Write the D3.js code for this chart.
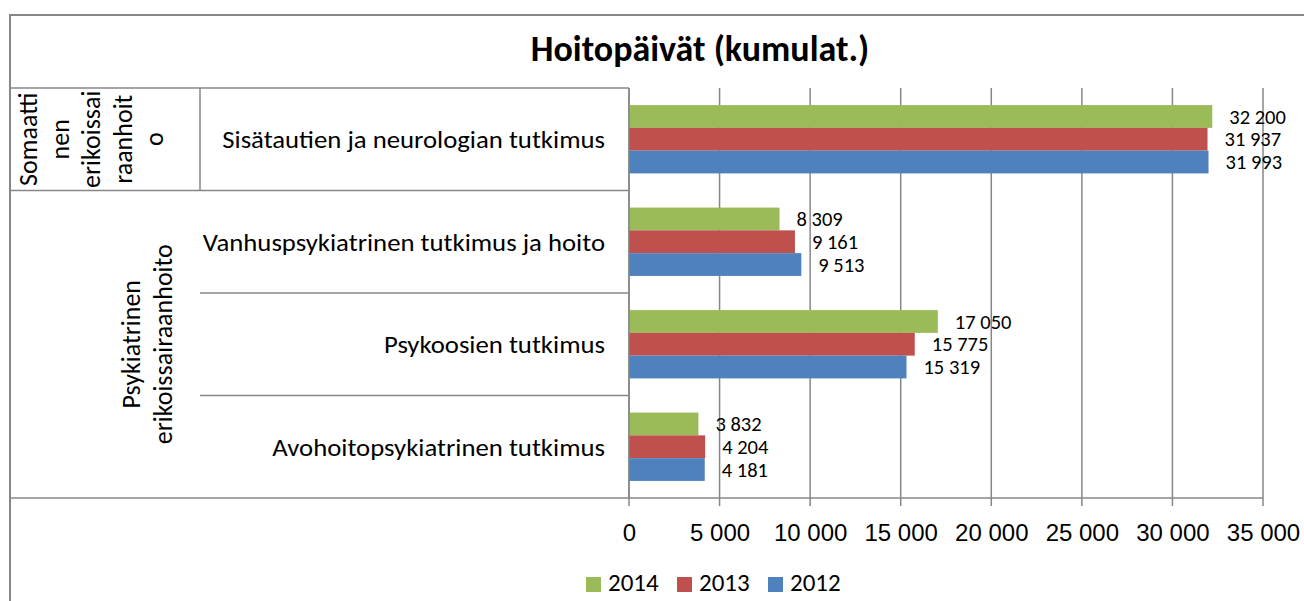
<!DOCTYPE html>
<html>
<head>
<meta charset="utf-8">
<script src="https://cdn.jsdelivr.net/npm/d3@7"></script>
<style>
  html, body { margin: 0; padding: 0; background: #ffffff; }
  svg { display: block; font-family: Carlito, Lato, "Open Sans", sans-serif; }
</style>
</head>
<body>
<svg id="chart" width="1304" height="601"></svg>
<script>
// Hoitopäivät (kumulat.) — cumulative care days by unit, 2012–2014
const categories = [
  "Sisätautien ja neurologian tutkimus",
  "Vanhuspsykiatrinen tutkimus ja hoito",
  "Psykoosien tutkimus",
  "Avohoitopsykiatrinen tutkimus"
];
// Outer category level: wrapped label lines and how many categories each covers
const groupLines = [
  ["Somaatti", "nen", "erikoissai", "raanhoit", "o"],
  ["Psykiatrinen", "erikoissairaanhoito"]
];
const groupSizes = [1, 3];

const years = ["2014", "2013", "2012"];
const values2014 = [32200, 8309, 17050, 3832];
const values2013 = [31937, 9161, 15775, 4204];
const values2012 = [31993, 9513, 15319, 4181];
const xTicks = [0, 5000, 10000, 15000, 20000, 25000, 30000, 35000];
const colors = ["#9BBB59", "#C0504D", "#4F81BD"];
const title = "Hoitopäivät (kumulat.)";

const seriesValues = [values2014, values2013, values2012];

const fi = d3.formatLocale({ decimal: ",", thousands: " ", grouping: [3], currency: ["", " €"] });
const fmt = fi.format(",d");

const svg = d3.select("#chart");
const gridColor = "#878787";

// Layout
const plotLeft = 629, plotRight = 1263, plotTop = 88, plotBottom = 498;
const chartLeft = 10, chartTop = 15;
const level1Right = 200;

// Chart border (extends beyond the visible frame on the right and bottom)
svg.append("rect")
  .attr("x", chartLeft).attr("y", chartTop)
  .attr("width", 1400).attr("height", 700)
  .attr("fill", "#ffffff")
  .attr("stroke", gridColor).attr("stroke-width", 2);

// Title
svg.append("text")
  .attr("x", 700).attr("y", 61)
  .attr("text-anchor", "middle")
  .attr("font-size", 36).attr("font-weight", "bold")
  .attr("fill", "#000")
  .text(title);

// Scales
const x = d3.scaleLinear().domain([0, 35000]).range([plotLeft, plotRight]);
const y = d3.scaleBand().domain(categories).range([plotTop, plotBottom])
  .paddingInner(1 / 3).paddingOuter(1 / 6);
const yInner = d3.scaleBand().domain(years).range([0, y.bandwidth()]);
const step = y.step();
const bandTop = c => y(c) - step / 6;

// Vertical gridlines with tick marks below the axis
svg.append("g")
  .selectAll("line")
  .data(xTicks)
  .join("line")
  .attr("x1", d => x(d)).attr("x2", d => x(d))
  .attr("y1", plotTop).attr("y2", plotBottom + 8)
  .attr("stroke", gridColor).attr("stroke-width", 1.5);

// X axis labels
const xAxis = d3.axisBottom(x).tickValues(xTicks).tickFormat(fmt).tickSize(0).tickPadding(0);
const gx = svg.append("g")
  .attr("transform", `translate(0,${plotBottom})`)
  .call(xAxis);
gx.select(".domain").remove();
gx.selectAll("text")
  .attr("y", 43).attr("dy", null)
  .attr("font-size", 24).attr("font-family", null)
  .attr("fill", "#000");

// Bars
const seriesG = svg.append("g").selectAll("g")
  .data(years.map((yr, i) => ({ year: yr, color: colors[i], values: seriesValues[i] })))
  .join("g")
  .attr("fill", d => d.color);

seriesG.selectAll("rect")
  .data(d => categories.map((c, j) => ({ cat: c, year: d.year, value: d.values[j] })))
  .join("rect")
  .attr("x", x(0))
  .attr("y", d => y(d.cat) + yInner(d.year))
  .attr("width", d => x(d.value) - x(0))
  .attr("height", yInner.bandwidth());

// Data labels
seriesG.selectAll("text")
  .data(d => categories.map((c, j) => ({ cat: c, year: d.year, value: d.values[j] })))
  .join("text")
  .attr("x", d => x(d.value) + 17)
  .attr("y", d => y(d.cat) + yInner(d.year) + yInner.bandwidth() / 2)
  .attr("dy", "0.35em")
  .attr("font-size", 20.5)
  .attr("fill", "#000")
  .text(d => fmt(d.value));

// Category axis frame
const axisLines = svg.append("g").attr("stroke", gridColor).attr("stroke-width", 1.5);
// value axis at zero
axisLines.append("line")
  .attr("x1", x(0)).attr("x2", x(0)).attr("y1", plotTop).attr("y2", plotBottom);
// bottom axis line spanning the label area
axisLines.append("line")
  .attr("x1", chartLeft).attr("x2", plotRight).attr("y1", plotBottom).attr("y2", plotBottom);
// top edge of the label area
axisLines.append("line")
  .attr("x1", chartLeft).attr("x2", x(0)).attr("y1", plotTop).attr("y2", plotTop);

// group boundaries (full width) and inner category boundaries
let idx = 0;
const groupStart = [];
groupSizes.forEach(n => { groupStart.push(idx); idx += n; });
categories.forEach((c, j) => {
  if (j === 0) return;
  const isGroupEdge = groupStart.includes(j);
  axisLines.append("line")
    .attr("x1", isGroupEdge ? chartLeft : level1Right).attr("x2", x(0))
    .attr("y1", bandTop(c)).attr("y2", bandTop(c));
});
// divider beside the first group label
axisLines.append("line")
  .attr("x1", level1Right).attr("x2", level1Right)
  .attr("y1", plotTop).attr("y2", bandTop(categories[1]));

// Category labels (slightly widened glyphs)
svg.append("g").selectAll("text")
  .data(categories)
  .join("text")
  .attr("transform", d => `translate(605,${y(d) + y.bandwidth() / 2}) scale(1.07,1)`)
  .attr("dy", "0.35em")
  .attr("text-anchor", "end")
  .attr("font-size", 25)
  .attr("fill", "#000")
  .text(d => d);

// Group labels (rotated, wrapped)
const groupFirstBaseline = [37, 140];
const lineGap = 31.5;
groupLines.forEach((lines, gi) => {
  const first = categories[groupStart[gi]];
  const last = categories[groupStart[gi] + groupSizes[gi] - 1];
  const cy = (bandTop(first) + bandTop(last) + step) / 2;
  lines.forEach((ln, li) => {
    const bx = groupFirstBaseline[gi] + li * lineGap;
    svg.append("text")
      .attr("transform", `translate(${bx},${cy}) rotate(-90)`)
      .attr("text-anchor", "middle")
      .attr("font-size", 26)
      .attr("fill", "#000")
      .text(ln);
  });
});

// Legend
const legendX = [586, 677, 768];
const legend = svg.append("g").selectAll("g")
  .data(years)
  .join("g")
  .attr("transform", (d, i) => `translate(${legendX[i]},577)`);
legend.append("rect")
  .attr("width", 15).attr("height", 15)
  .attr("fill", (d, i) => colors[i]);
legend.append("text")
  .attr("x", 22).attr("y", 14)
  .attr("font-size", 25)
  .attr("fill", "#000")
  .text(d => d);
</script>
</body>
</html>
